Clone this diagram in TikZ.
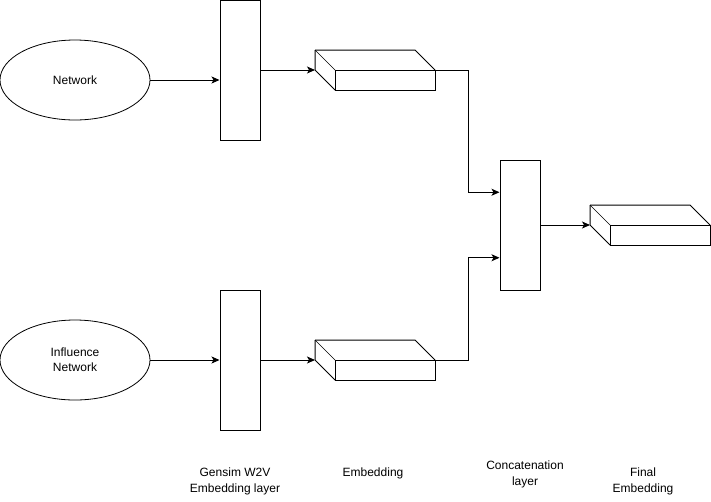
\documentclass[tikz,border=0pt]{standalone}
\usepackage{fontspec}
\setmainfont{Liberation Sans}
\usetikzlibrary{shapes.geometric,arrows.meta,calc}
\tikzset{
  every picture/.style={x=1pt,y=-1pt},
  ln/.style={line width=1pt},
  src/.style={ellipse,draw,line width=0.8pt,minimum width=150pt,minimum height=80pt,inner sep=0pt,align=center,font=\fontsize{12}{15}\selectfont},
  layer/.style={draw,line width=1pt,minimum width=40pt,inner sep=0pt},
  cub/.style={minimum width=120pt,minimum height=40pt,inner sep=0pt,outer sep=0pt},
  lbl/.style={align=center,font=\fontsize{12}{16}\selectfont,inner sep=0pt},
  arr/.style={line width=1pt,-{Stealth[length=8pt,width=7pt,inset=2pt]}},
}
\newcommand{\cuboid}[1]{%
  \draw[ln] (#1.north west) -- ($(#1.north east)-(20,0)$) -- (#1.east);
  \draw[ln] ($(#1.west)+(20,0)$) rectangle (#1.south east);
  \draw[ln] (#1.north west) -- (#1.west) -- ($(#1.south west)+(20,0)$);
  \draw[line width=0.7pt] (#1.north west) -- ($(#1.west)+(20,0)$);
}
\begin{document}
\begin{tikzpicture}
\useasboundingbox (0,0) rectangle (711,501);
% sources
\node[src] (net) at (75,80) {Network};
\node[src] (inf) at (75,360) {Influence\\Network};
% gensim layers
\node[layer,minimum height=140pt] (g1) at (240,70) {};
\node[layer,minimum height=140pt] (g2) at (240,360) {};
% embeddings
\node[cub] (e1) at (375,70) {};
\node[cub] (e2) at (375,360) {};
\cuboid{e1}
\cuboid{e2}
% concatenation
\node[layer,minimum height=130pt] (cc) at (520,225) {};
% final
\node[cub] (fe) at (650,225) {};
\cuboid{fe}
% connectors
\draw[arr] (net.east) -- (net.east -| g1.west);
\draw[arr] (inf.east) -- (g2.west);
\draw[arr] (g1.east) -- (e1.west);
\draw[arr] (g2.east) -- (e2.west);
\coordinate (c1) at ($(cc.north west)!0.25!(cc.south west)$);
\coordinate (c2) at ($(cc.north west)!0.75!(cc.south west)$);
\draw[arr] (e1.east) -- ++(33,0) |- (c1);
\draw[arr] (e2.east) -- ++(33,0) |- (c2);
\draw[arr] (cc.east) -- (fe.west);
% labels
\node[lbl] (l1) at (235,481) {Gensim W2V\\Embedding layer};
\node[lbl] (l2) at (373,473) {Embedding};
\node[lbl] (l3) at (525,474) {Concatenation\\layer};
\node[lbl] (l4) at (643,481) {Final\\Embedding};
\end{tikzpicture}
\end{document}
